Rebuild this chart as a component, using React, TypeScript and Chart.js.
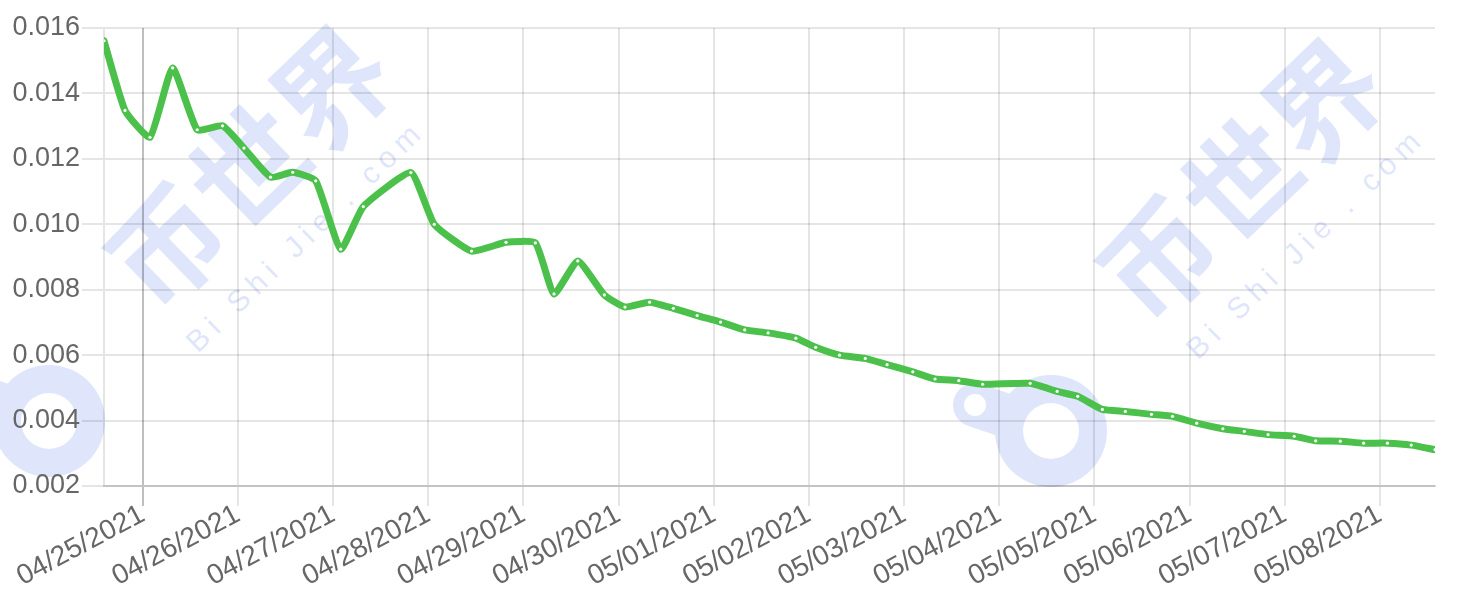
import React, { useEffect, useRef } from 'react';
import { Chart, registerables } from 'chart.js';

Chart.register(...registerables);

// Hours measured from 04/25/2021 00:00 for each price sample
const hoursFrom0425 = [
  -9.8, -4.5, 1.8, 7.5, 13.7, 20.1, 25.5, 32.2, 37.8, 43.6,
  49.9, 55.6, 67.6, 73.5, 82.9, 91.6, 99.0, 103.7, 109.7, 116.4,
  121.6, 127.8, 133.8, 139.8, 145.7, 151.8, 157.7, 164.7, 169.7, 175.7,
  182.2, 187.7, 194.2, 199.8, 205.8, 211.8, 223.8, 230.6, 235.8, 242.0,
  247.8, 254.4, 259.7, 265.8, 272.4, 277.8, 283.8, 290.4, 295.8, 302.0,
  307.9, 313.9, 319.9, 325.9,
];

const prices = [
  0.01561, 0.01348, 0.01266, 0.01478, 0.01289, 0.01301, 0.01233, 0.01144, 0.01159, 0.01133,
  0.00924, 0.01054, 0.01158, 0.01000, 0.00918, 0.00945, 0.00943, 0.00787, 0.00888, 0.00784,
  0.00747, 0.00762, 0.00743, 0.00721, 0.00701, 0.00677, 0.00668, 0.00652, 0.00624, 0.00600,
  0.00590, 0.00571, 0.00549, 0.00527, 0.00522, 0.00511, 0.00514, 0.00489, 0.00474, 0.00434,
  0.00428, 0.00419, 0.00413, 0.00392, 0.00375, 0.00367, 0.00357, 0.00352, 0.00338, 0.00337,
  0.00331, 0.00331, 0.00325, 0.00311,
];

const xTickLabels = [
  '04/25/2021', '04/26/2021', '04/27/2021', '04/28/2021', '04/29/2021', '04/30/2021', '05/01/2021',
  '05/02/2021', '05/03/2021', '05/04/2021', '05/05/2021', '05/06/2021', '05/07/2021', '05/08/2021',
];
const xTickHours = xTickLabels.map((_, i) => i * 24);

const yMin = 0.002;
const yMax = 0.016;
const yStep = 0.002;

const WM_COLOR = '#dfe6fc';

function drawLogo(ctx: CanvasRenderingContext2D, bx: number, by: number) {
  const sx = bx - 76;
  const sy = by - 26;
  ctx.save();
  ctx.fillStyle = WM_COLOR;
  ctx.strokeStyle = WM_COLOR;
  ctx.lineCap = 'round';
  ctx.lineWidth = 44;
  ctx.beginPath();
  ctx.moveTo(sx, sy);
  ctx.lineTo(bx, by);
  ctx.stroke();
  ctx.beginPath();
  ctx.arc(bx, by, 56, 0, Math.PI * 2);
  ctx.fill();
  ctx.fillStyle = '#ffffff';
  ctx.beginPath();
  ctx.arc(bx, by, 28, 0, Math.PI * 2);
  ctx.fill();
  ctx.beginPath();
  ctx.arc(sx, sy, 11, 0, Math.PI * 2);
  ctx.fill();
  ctx.restore();
}

function drawMark(ctx: CanvasRenderingContext2D, cx: number, cy: number, sx: number, sy: number) {
  ctx.save();
  ctx.fillStyle = WM_COLOR;
  ctx.translate(cx, cy);
  ctx.rotate((-44 * Math.PI) / 180);
  ctx.font = 'bold 114px "Noto Sans CJK SC"';
  ctx.textAlign = 'center';
  ctx.textBaseline = 'middle';
  ctx.fillText('币世界', 0, 0);
  ctx.restore();
  ctx.save();
  ctx.fillStyle = WM_COLOR;
  ctx.translate(sx, sy);
  ctx.rotate((-44 * Math.PI) / 180);
  ctx.font = '30px "Liberation Sans"';
  (ctx as any).letterSpacing = '7px';
  ctx.textAlign = 'center';
  ctx.textBaseline = 'middle';
  ctx.fillText('Bi Shi Jie . com', 0, 0);
  ctx.restore();
}

const watermarkPlugin = {
  id: 'watermark',
  beforeDraw(chart: any) {
    const ctx: CanvasRenderingContext2D = chart.ctx;
    ctx.save();
    ctx.fillStyle = '#ffffff';
    ctx.fillRect(0, 0, chart.width, chart.height);
    ctx.restore();
    drawLogo(ctx, 49, 421);
    drawLogo(ctx, 1051, 431);
    drawMark(ctx, 249, 167, 307, 237);
    drawMark(ctx, 1241, 180, 1307, 244);
  },
};

export default function App() {
  const canvasRef = useRef<HTMLCanvasElement | null>(null);

  useEffect(() => {
    const canvas = canvasRef.current;
    if (!canvas) return;
    Chart.defaults.font.family = '"Liberation Sans", Arial, sans-serif';
    Chart.defaults.color = '#666';

    const chart = new Chart(canvas, {
      type: 'line',
      data: {
        datasets: [
          {
            data: hoursFrom0425.map((h, i) => ({ x: h, y: prices[i] })),
            borderColor: '#4bc14b',
            borderWidth: 7,
            borderCapStyle: 'round',
            borderJoinStyle: 'round',
            tension: 0.15,
            fill: false,
            pointRadius: 1.6,
            pointBorderWidth: 0,
            pointBackgroundColor: '#ffffff',
          },
        ],
      },
      options: {
        responsive: false,
        animation: false,
        events: [],
        layout: { padding: { top: 28, right: 29, left: 0, bottom: 0 } },
        plugins: {
          legend: { display: false },
          tooltip: { enabled: false },
        },
        scales: {
          x: {
            type: 'linear',
            min: hoursFrom0425[0],
            max: hoursFrom0425[hoursFrom0425.length - 1],
            afterBuildTicks: (scale: any) => {
              scale.ticks = xTickHours.map((v) => ({ value: v }));
            },
            afterFit: (scale: any) => {
              scale.height = 112;
            },
            grid: {
              color: (ctx: any) => (ctx.index === 0 ? 'rgba(0,0,0,0.25)' : 'rgba(0,0,0,0.1)'),
              lineWidth: 2,
              tickLength: 20,
            },
            border: { display: true, color: 'rgba(0,0,0,0.15)', width: 2 },
            ticks: {
              autoSkip: false,
              minRotation: 28,
              maxRotation: 28,
              padding: -8,
              font: { size: 28 },
              color: '#666',
              callback: (_v: any, index: number) => xTickLabels[index],
            },
          },
          y: {
            type: 'linear',
            min: yMin,
            max: yMax,
            afterFit: (scale: any) => {
              scale.width = 104;
            },
            grid: {
              color: 'rgba(0,0,0,0.1)',
              lineWidth: 2,
              tickLength: 22,
            },
            border: { display: true, color: 'rgba(0,0,0,0.1)', width: 2 },
            ticks: {
              stepSize: yStep,
              padding: 2,
              font: { size: 27 },
              color: '#666',
              callback: (v: any) => Number(v).toFixed(3),
            },
          },
        },
      },
      plugins: [watermarkPlugin],
    } as any);

    return () => chart.destroy();
  }, []);

  return (
    <div style={{ position: 'absolute', left: 0, top: 0, width: 1464, height: 598, background: '#fff' }}>
      <canvas ref={canvasRef} width={1464} height={598} style={{ display: 'block', width: 1464, height: 598 }} />
    </div>
  );
}
